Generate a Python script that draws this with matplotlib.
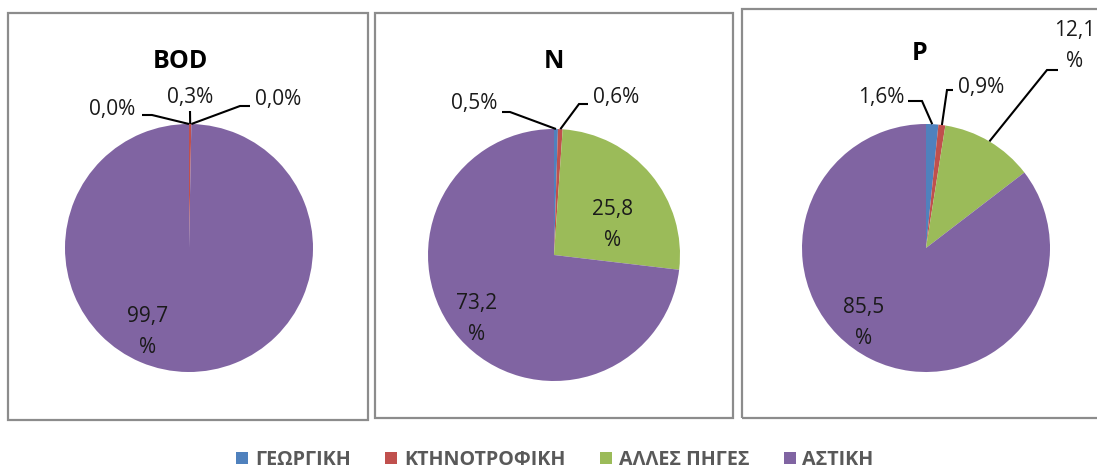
import numpy as np
import matplotlib
matplotlib.use("Agg")
import matplotlib.pyplot as plt
from matplotlib.patches import Rectangle, Patch

plt.rcParams['font.family'] = ['Open Sans', 'DejaVu Sans']

# ---- data ----
categories = ["ΓΕΩΡΓΙΚΗ", "ΚΤΗΝΟΤΡΟΦΙΚΗ", "ΑΛΛΕΣ ΠΗΓΕΣ", "ΑΣΤΙΚΗ"]
colors = ["#4F81BD", "#C0504D", "#9BBB59", "#8064A2"]
titles = ["BOD", "N", "P"]
bod_values = [0.0, 0.3, 0.0, 99.7]
n_values = [0.5, 0.6, 25.8, 73.2]
p_values = [1.6, 0.9, 12.1, 85.5]
bod_labels = ["0,0%", "0,3%", "0,0%", "99,7\n%"]
n_labels = ["0,5%", "0,6%", "25,8\n%", "73,2\n%"]
p_labels = ["1,6%", "0,9%", "12,1\n%", "85,5\n%"]

W, H = 1097, 468
fig = plt.figure(figsize=(W / 100, H / 100), dpi=100)
ax = fig.add_axes([0, 0, 1, 1])

def Y(y):
    return H - y

# panel layout (pixels, top-down)
frames = [(8, 13, 368, 420), (375, 13, 733, 418), (742, 9, 1105, 418)]
centers = [(189, 248), (554, 255), (926, 248)]
radii = [124, 126, 124]
title_pos = [(180, 61), (554, 61), (920, 54)]

# label specs per panel: (wedge index, text offset from centre, leader elbow offsets)
label_specs = [
    [  # BOD
        (0, (-77, -139), [(-47, -133), (-37, -133)]),
        (1, (1, -151), [(1, -137)]),
        (2, (89, -148), [(61, -142), (51, -142)]),
        (3, (-41, 84), None),
    ],
    [  # N
        (0, (-80, -151), [(-52, -143), (-44, -143)]),
        (1, (62, -157), [(34, -151), (25, -151)]),
        (2, (59, -30), None),
        (3, (-77, 64), None),
    ],
    [  # P
        (0, (-45, -151), [(-18, -147), (-4, -147)]),
        (1, (55, -161), [(27, -158), (21, -158)]),
        (2, (149, -202), [(132, -178), (121, -178)]),
        (3, (-62, 75), None),
    ],
]

all_values = [bod_values, n_values, p_values]
all_labels = [bod_labels, n_labels, p_labels]

for k in range(3):
    x0, y0, x1, y1 = frames[k]
    ax.add_patch(Rectangle((x0, Y(y1)), x1 - x0, y1 - y0, fill=False,
                           edgecolor="#8C8C8C", linewidth=1.6, zorder=1))
    cx, cy = centers[k]
    wedges, _ = ax.pie(all_values[k], colors=colors, startangle=90,
                       counterclock=False, center=(cx, Y(cy)), radius=radii[k],
                       wedgeprops=dict(linewidth=0), frame=True)
    ax.text(title_pos[k][0], Y(title_pos[k][1]), titles[k], fontsize=18,
            fontweight="bold", ha="center", va="center", color="black")
    for (i, toff, pts) in label_specs[k]:
        w = wedges[i]
        mid = np.deg2rad((w.theta1 + w.theta2) / 2)
        ax_x = w.center[0] + w.r * np.cos(mid)
        ax_y = w.center[1] + w.r * np.sin(mid)
        tx, ty = cx + toff[0], Y(cy + toff[1])
        ax.text(tx, ty, all_labels[k][i], fontsize=15, ha="center", va="center",
                color="#1a1a1a", linespacing=1.6)
        if pts is not None:
            xs = [cx + p[0] for p in pts] + [ax_x]
            ys = [Y(cy + p[1]) for p in pts] + [ax_y]
            ax.plot(xs, ys, color="black", linewidth=1.5, solid_capstyle="butt",
                    solid_joinstyle="miter", zorder=5)

ax.set_xlim(0, W)
ax.set_ylim(0, H)
ax.set_aspect("auto")
ax.axis("off")

handles = [Patch(facecolor=c, edgecolor="none") for c in colors]
leg = fig.legend(handles, categories, loc="center", ncol=4,
                 bbox_to_anchor=(555 / W, 1 - 460 / H), frameon=False,
                 prop=dict(size=14.2, weight="bold"),
                 handlelength=0.6, handleheight=0.6,
                 handletextpad=0.35, columnspacing=1.75, labelcolor="#595959")

fig.savefig("out.png", dpi=100)
